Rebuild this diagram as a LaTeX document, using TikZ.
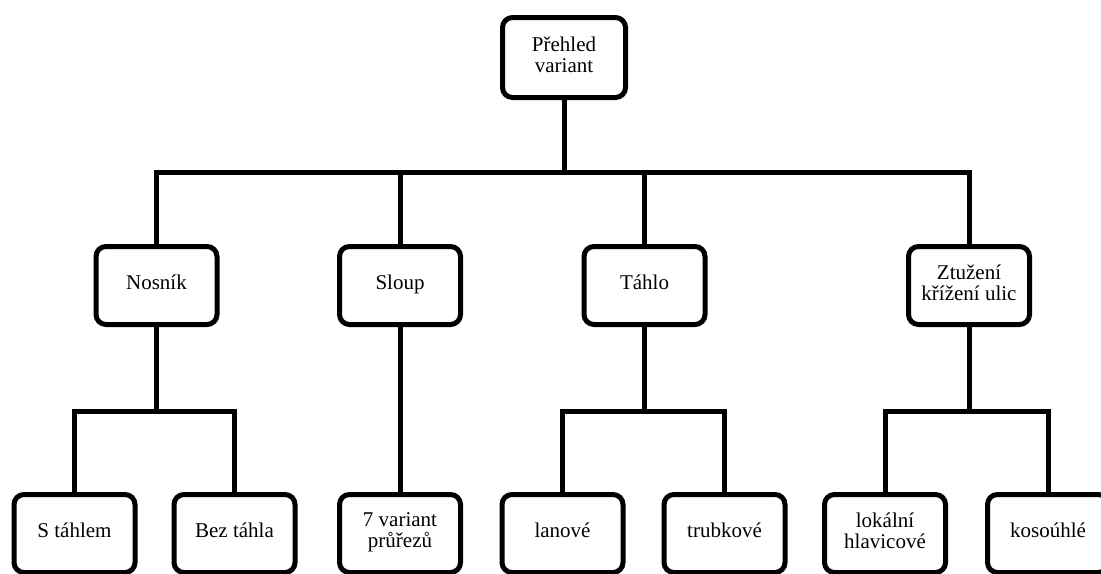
\documentclass[tikz,border=0pt]{standalone}
\usepackage{fontspec}
\setmainfont{Liberation Serif}
\usepackage{tikz}
\usetikzlibrary{calc}
\tikzset{
  variant/.style={
    draw,
    line width=2.5pt,
    rounded corners=5pt,
    fill=white,
    minimum width=60.5pt,
    minimum height=39pt,
    align=center,
    inner sep=2pt,
    execute at begin node=\strut,
    execute at end node=\strut,
    font=\fontsize{10.5}{10.5}\selectfont
  },
  link/.style={line width=2.5pt}
}

\begin{document}
\begin{tikzpicture}[x=0.5pt,y=-0.5pt]
  \useasboundingbox (0,0) rectangle (1101,573);
  \coordinate (hlavni) at (564,172);
  \coordinate (dolni) at (0,411);
  \node[variant,minimum width=61.5pt,minimum height=40pt] (prehled) at (564,57.5) {Přehled\\variant};
  \node[variant] (nosnik) at (156.5,285.5) {Nosník};
  \node[variant] (sloup) at (400,285.5) {Sloup};
  \node[variant] (tahlo) at (644.5,285.5) {Táhlo};
  \node[variant] (ztuzeni) at (969,285.5) {Ztužení\\křížení ulic};
  \node[variant] (stahlem) at (74.5,533.5) {S táhlem};
  \node[variant] (beztahla) at (234.5,533.5) {Bez táhla};
  \node[variant] (prurezy) at (400,533.5) {7 variant\\průřezů};
  \node[variant] (lanove) at (562.5,533.5) {lanové};
  \node[variant] (trubkove) at (724.5,533.5) {trubkové};
  \node[variant] (lokalni) at (885,533.5) {lokální\\hlavicové};
  \node[variant] (kosouhle) at (1048,533.5) {kosoúhlé};
  % prvni uroven
  \draw[link] (prehled.south) -- (hlavni);
  \draw[link] (nosnik.north) |- (hlavni) -| (ztuzeni.north);
  \draw[link] (sloup.north) -- (sloup.north |- hlavni);
  \draw[link] (tahlo.north) -- (tahlo.north |- hlavni);
  % druha uroven
  \draw[link] (nosnik.south) -- (nosnik.south |- dolni);
  \draw[link] (stahlem.north) |- (nosnik.south |- dolni) -| (beztahla.north);
  \draw[link] (sloup.south) -- (prurezy.north);
  \draw[link] (tahlo.south) -- (tahlo.south |- dolni);
  \draw[link] (lanove.north) |- (tahlo.south |- dolni) -| (trubkove.north);
  \draw[link] (ztuzeni.south) -- (ztuzeni.south |- dolni);
  \draw[link] (lokalni.north) |- (ztuzeni.south |- dolni) -| (kosouhle.north);
\end{tikzpicture}
\end{document}
